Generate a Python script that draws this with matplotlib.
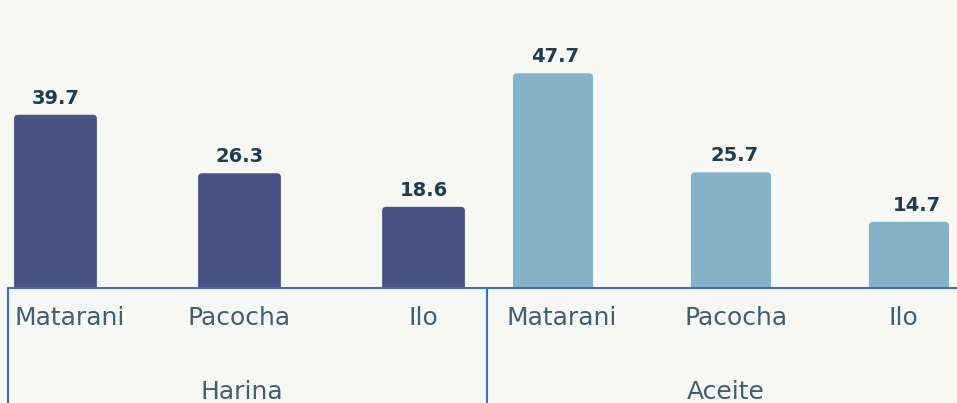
import matplotlib.pyplot as plt
from matplotlib.patches import FancyBboxPatch
from matplotlib.lines import Line2D
from matplotlib.transforms import ScaledTranslation

# data
groups = ["Harina", "Aceite"]
ports = ["Matarani", "Pacocha", "Ilo"]
harina = [39.7, 26.3, 18.6]
aceite = [47.7, 25.7, 14.7]

BG = "#f7f7f3"
AXIS_BLUE = "#3a70c2"
LABEL_C = "#3f5f73"
VALUE_C = "#1f3d4f"
colors = ["#4a5283", "#84b2c9"]

W, H = 957, 403
fig = plt.figure(figsize=(W / 100, H / 100), dpi=100, facecolor=BG)
plt.rcParams["font.family"] = ["DejaVu Sans"]

base_y = 288  # pixel row of the category axis
# (left px, right px, xlim, ylim top, tick label nudges px, value nudges px, group nudge px)
panels = [
    (8, 487, (-0.258, 2.345), 66.0, [14, 0, 0], [0, 0, 0], 2),
    (487, 957, (-0.371, 2.27), 64.0, [9, 5, -6], [2, 3.5, 8], -5),
]


def rounded_bars(ax, vals, color, nudges, width=0.45, r_px=4):
    x0, x1 = ax.get_xlim()
    y0, y1 = ax.get_ylim()
    bb = ax.get_window_extent()
    px_x = (x1 - x0) / bb.width
    px_y = (y1 - y0) / bb.height
    rx = r_px * px_x
    for i, v in enumerate(vals):
        p = FancyBboxPatch((i - width / 2, -5), width, v + 5,
                           boxstyle=f"round,pad=0,rounding_size={rx}",
                           mutation_aspect=px_y / px_x,
                           fc=color, ec="none", zorder=2)
        ax.add_patch(p)
        ax.annotate(f"{v:.1f}", (i, v), xytext=(nudges[i], 11), textcoords="offset pixels",
                    ha="center", va="baseline", fontsize=14, fontweight="bold",
                    color=VALUE_C)


for (lpx, rpx, xl, ytop, tnud, vnud, gnud), name, vals, col in zip(
        panels, groups, [harina, aceite], colors):
    ax = fig.add_axes([lpx / W, (H - base_y) / H, (rpx - lpx) / W, base_y / H])
    ax.set_facecolor("none")
    ax.set_xlim(*xl)
    ax.set_ylim(0, ytop)
    for s in ["top", "right", "left"]:
        ax.spines[s].set_visible(False)
    ax.spines["bottom"].set_color(AXIS_BLUE)
    ax.spines["bottom"].set_linewidth(1.5)
    ax.spines["bottom"].set_zorder(3)
    ax.set_yticks([])
    ax.set_xticks(range(len(ports)), ports)
    ax.tick_params(axis="x", length=0, pad=13, labelsize=18, labelcolor=LABEL_C)
    for lab, dx in zip(ax.get_xticklabels(), tnud):
        lab.set_transform(lab.get_transform() + ScaledTranslation(dx / 100, 0, fig.dpi_scale_trans))
    rounded_bars(ax, vals, col, vnud)
    ax.annotate(name, (1, 0), xycoords=("data", "axes fraction"),
                xytext=(gnud, -111), textcoords="offset pixels",
                ha="center", va="baseline", fontsize=18, color=LABEL_C,
                annotation_clip=False)

# group separators below the axis
for xp in [8, 487]:
    fig.add_artist(Line2D([xp / W, xp / W], [0, (H - base_y) / H],
                          color=AXIS_BLUE, lw=1.5))

fig.savefig("out.png", dpi=100, facecolor=BG)
